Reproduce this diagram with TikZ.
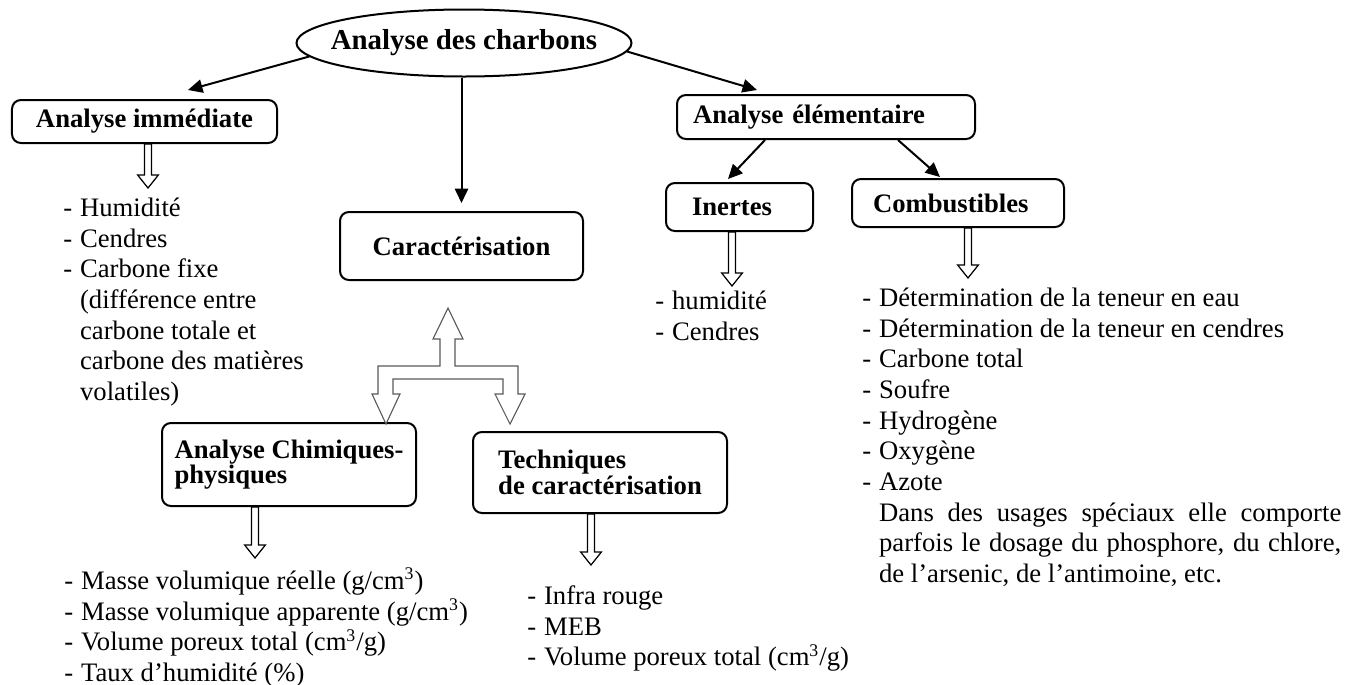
\documentclass[tikz,border=0pt]{standalone}
\usepackage{fontspec}
\setmainfont{Liberation Serif}
\usetikzlibrary{shapes.geometric, arrows.meta, calc}

\newcommand{\taille}{\fontsize{12}{13.8}\selectfont}
\newcommand{\tiret}{\makebox[7.5pt][l]{-}}
\newcommand{\retrait}{\hspace*{7.5pt}}
% fleche creuse : #1 = bord de la boite, #2 = pointe
\newcommand{\flechecreuse}[2]{%
  \draw[creuse] let \p1=(#1), \p2=(#2) in
    (\x2-1.6pt,\y1) -- (\x2-1.6pt,\y2+5.9pt) -- (\x2-4.7pt,\y2+5.9pt) -- (\x2,\y2)
    -- (\x2+4.7pt,\y2+5.9pt) -- (\x2+1.6pt,\y2+5.9pt) -- (\x2+1.6pt,\y1) -- cycle;}

\tikzset{
  boite/.style={draw, line width=0.9pt, rounded corners=4pt, font=\taille\bfseries},
  boite2/.style={boite, align=left, font=\fontsize{12}{11.5}\selectfont\bfseries},
  fleche/.style={-{Triangle[length=6.5pt,width=6pt]}, line width=0.9pt},
  creuse/.style={line width=0.55pt},
  liste/.style={anchor=north west, inner sep=0pt, align=left, font=\taille},
}

\begin{document}
\begin{tikzpicture}[x=0.45pt, y=-0.45pt]
	\useasboundingbox (0,0) rectangle (1355,684);

	\node[ellipse, draw, line width=0.9pt, minimum width=150.75pt, minimum height=30.15pt, inner sep=0pt, font=\fontsize{13}{15}\selectfont\bfseries] (titre) at (464,43) {\makebox[0pt]{Analyse des charbons}};

	\node[boite, minimum width=119.25pt, minimum height=19.35pt] (imm) at (144.5,121.5) {Analyse immédiate};
	\node[boite, minimum width=109.35pt, minimum height=30.6pt] (carac) at (461.5,246) {Caractérisation};
	\node[boite, minimum height=19.8pt, text width=119.7pt, inner xsep=7.2pt, align=left] (elem) at (826,117) {Analyse élémentaire};
	\node[boite, minimum height=21.6pt, text width=42.75pt, inner xsep=11.7pt, align=left] (inertes) at (739.5,207) {Inertes};
	\node[boite, minimum height=21.6pt, text width=76.5pt, inner xsep=9.45pt, align=left] (combust) at (958,203) {Combustibles};
	\node[boite2, minimum width=114.3pt, minimum height=37.35pt] (chim) at (289,464.5) {Analyse Chimiques-\\physiques};
	\node[boite2, minimum width=114.3pt, minimum height=36.45pt] (tech) at (600,472.5) {Techniques\\de caractérisation};

	\node[liste] (l1) at (63,194.5) {\strut\tiret Humidité\\\tiret Cendres\\\tiret Carbone fixe\\\retrait(différence entre\\\retrait carbone totale et\\\retrait carbone des matières\\\retrait volatiles)};
	\node[liste] (l2) at (655,287.5) {\strut\tiret humidité\\\tiret Cendres};
	\node[liste] (l3) at (862,284.5) {\strut\tiret Détermination de la teneur en eau\\\tiret Détermination de la teneur en cendres\\\tiret Carbone total\\\tiret Soufre\\\tiret Hydrogène\\\tiret Oxygène\\\tiret Azote\\\retrait\makebox[208pt][s]{Dans des usages spéciaux elle comporte}\\\retrait\makebox[208pt][s]{parfois le dosage du phosphore, du chlore,}\\\retrait de l’arsenic, de l’antimoine, etc.};
	\node[liste] (l4) at (64,567.5) {\strut\tiret Masse volumique réelle (g/cm\textsuperscript{3})\\\tiret Masse volumique apparente (g/cm\textsuperscript{3})\\\tiret Volume poreux total (cm\textsuperscript{3}/g)\\\tiret Taux d’humidité (\%)};
	\node[liste] (l5) at (527,582.5) {\strut\tiret Infra rouge\\\tiret MEB\\\tiret Volume poreux total (cm\textsuperscript{3}/g)};

	\draw[fleche] (titre.185) -- ($(imm.north)+(43.5,-9)$);
	\draw[fleche] (titre.-3) -- ($(elem.north)+(-69,-4)$);
	\draw[fleche, shorten >=3.6pt] (titre.south -| carac.north) -- (carac.north);
	\draw[fleche] ($(elem.south)+(-61,0)$) -- ($(inertes.north)+(-11.5,-3)$);
	\draw[fleche] ($(elem.south)+(72,0)$) -- ($(combust.north)+(-18,-1)$);

	\coordinate (p1) at (148,188);
	\coordinate (p2) at (732,286);
	\coordinate (p3) at (968,278);
	\coordinate (p4) at (255,558);
	\coordinate (p5) at (591,565);
	\flechecreuse{imm.south}{p1}
	\flechecreuse{inertes.south}{p2}
	\flechecreuse{combust.south}{p3}
	\flechecreuse{chim.south}{p4}
	\flechecreuse{tech.south}{p5}

	% fourche vers les deux techniques
	\coordinate (fourche) at ($(carac.south)+(-13.5,27)$);
	\draw[line width=0.5pt, draw=black!65] (fourche) -- ++(15,31) -- ++(-8,0) -- ++(0,27) -- ++(63,0) -- ++(0,28) -- ++(7,0) -- ++(-15,30) -- ++(-15,-30) -- ++(8,0) -- ++(0,-15) -- ++(-110,0) -- ++(0,15) -- ++(7,0) -- ++(-14,30) -- ++(-14,-30) -- ++(6,0) -- ++(0,-28) -- ++(62,0) -- ++(0,-27) -- ++(-7,0) -- cycle;
\end{tikzpicture}
\end{document}
